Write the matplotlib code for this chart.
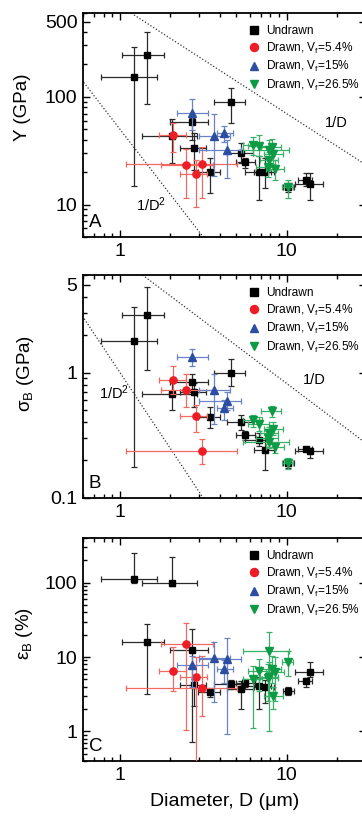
import numpy as np
import matplotlib
matplotlib.use('Agg')
import matplotlib.pyplot as plt
from matplotlib.lines import Line2D
from matplotlib.ticker import FixedLocator, FixedFormatter, LogLocator, NullFormatter

plt.rcParams['font.family'] = ['Liberation Sans', 'DejaVu Sans']
plt.rcParams['mathtext.default'] = 'regular'

# --- undrawn fibres: diameter (um) with low/high ends of the error bars
und_d = [1.21, 1.45, 2.05, 2.70, 2.78, 3.47, 4.62, 5.30, 5.66, 6.80, 7.42, 10.2, 13.0, 13.8]
und_d_lo = [0.77, 1.03, 1.36, 2.01, 2.30, 2.95, 3.65, 4.40, 5.00, 5.60, 6.40, 9.50, 11.8, 11.2]
und_d_hi = [1.66, 1.84, 2.90, 3.39, 3.30, 4.00, 5.60, 6.30, 6.50, 8.10, 8.40, 11.1, 14.2, 16.5]
und_Y = [152, 245, 43.5, 57.8, 33.5, 19.9, 89, 30.1, 24.8, 20.0, 19.9, 14.5, 17.0, 15.6]
und_Y_lo = [15.0, 86, 24.4, 40, 21, 12.8, 57, 24.4, 22, 11.1, 14.3, 13, 14.8, 11.1]
und_Y_hi = [292, 403, 62, 63, 46, 27, 120, 37.3, 27, 28, 27, 16, 19.7, 19.7]
und_S = [1.78, 2.89, 0.68, 0.845, 0.70, 0.44, 1.0, 0.40, 0.316, 0.29, 0.24, 0.19, 0.245, 0.237]
und_S_lo = [0.178, 1.05, 0.50, 0.73, 0.53, 0.36, 0.785, 0.35, 0.29, 0.26, 0.167, 0.175, 0.235, 0.21]
und_S_hi = [3.36, 4.77, 0.86, 0.98, 0.83, 0.53, 1.28, 0.46, 0.34, 0.33, 0.30, 0.205, 0.255, 0.25]
und_E = [113, 15.8, 100, 12.3, 4.2, 3.42, 4.34, 3.68, 4.5, 4.08, 4.0, 3.53, 4.75, 6.3]
und_E_lo = [100, 3.16, 90, 0.73, 2.2, 2.94, 3.7, 2.0, 4.0, 2.0, 2.4, 3.1, 3.9, 5.4]
und_E_hi = [252, 28.3, 220, 23.8, 5.0, 3.8, 4.9, 4.7, 5.0, 5.4, 4.9, 3.9, 5.3, 8.6]

# --- drawn, Vf = 5.4 %
d54 = [2.09, 2.48, 2.86, 3.09]
d54_lo = [1.72, 1.77, 2.29, 1.08]
d54_hi = [2.50, 3.60, 3.35, 5.05]
Y54 = [43.8, 23.1, 19.2, 23.8]
Y54_lo = [31, 11.5, 9.5, 11.5]
Y54_hi = [57, 33, 26, 34]
S54 = [0.87, 0.726, 0.447, 0.237]
S54_lo = [0.68, 0.535, 0.336, 0.188]
S54_hi = [1.13, 0.97, 0.555, 0.297]
E54 = [6.5, 15.1, 5.4, 3.8]
E54_lo = [3.5, 1.06, 0.05, 1.6]
E54_hi = [13.6, 28.4, 10.1, 10.4]

# --- drawn, Vf = 15 %
d15 = [2.69, 3.68, 4.21, 4.38]
d15_lo = [2.19, 2.97, 3.80, 2.98]
d15_hi = [3.40, 4.57, 4.77, 5.30]
Y15 = [70.6, 43.5, 46.1, 31.8]
Y15_lo = [48.7, 18.3, 38, 17.7]
Y15_hi = [95.8, 69, 54, 40]
S15 = [1.33, 0.726, 0.523, 0.59]
S15_lo = [1.13, 0.39, 0.42, 0.50]
S15_hi = [1.53, 0.97, 0.60, 0.70]
E15 = [7.75, 9.8, 7.0, 9.5]
E15_lo = [4.0, 2.5, 4.5, 0.91]
E15_hi = [10.5, 16.2, 9.0, 18]

# --- drawn, Vf = 26.5 %
d265 = [6.25, 6.8, 7.75, 7.8, 7.9, 8.2, 8.25, 8.5, 10.2]
d265_lo = [5.5, 5.9, 6.6, 6.9, 5.5, 7.0, 7.3, 7.5, 9.4]
d265_hi = [7.1, 7.8, 8.9, 8.9, 10.4, 9.3, 9.5, 9.7, 11.0]
Y265 = [35.5, 35.0, 22.5, 26.0, 32.0, 34.5, 29.7, 21.2, 14.5]
Y265_lo = [29, 28, 18, 21, 26, 28, 24, 17, 11.5]
Y265_hi = [42, 44, 27, 31, 40, 41, 36, 26, 17]
S265 = [0.415, 0.39, 0.30, 0.33, 0.28, 0.49, 0.357, 0.256, 0.19]
S265_lo = [0.37, 0.34, 0.27, 0.29, 0.25, 0.44, 0.32, 0.23, 0.17]
S265_hi = [0.46, 0.44, 0.34, 0.37, 0.31, 0.54, 0.40, 0.28, 0.21]
E265 = [5.0, 6.4, 5.25, 5.4, 12.0, 7.0, 2.95, 6.3, 8.6]
E265_lo = [1.1, 3.5, 2.6, 3.0, 1.0, 4.5, 2.0, 2.6, 5.5]
E265_hi = [7.5, 9.5, 8.0, 8.5, 21.5, 10.5, 4.0, 10.0, 12.0]

legend_labels = ['Undrawn', 'Drawn, V$_f$=5.4%', 'Drawn, V$_f$=15%', 'Drawn, V$_f$=26.5%']

# scaling-law guide lines (prefactors for 1/D and 1/D^2)
guide_A = [700, 50]
guide_B = [8.2, 1.0]

# marker, face colour, error bar colour, size
styles = [('s', '#000000', '#2a2a2a', 4.6),
          ('o', '#ee1c24', '#f06a60', 5.2),
          ('^', '#2b4ea2', '#6a82c6', 5.4),
          ('v', '#0c9a44', '#3cb068', 5.4)]


def errs(v, lo, hi):
    v, lo, hi = np.array(v), np.array(lo), np.array(hi)
    return [v - lo, hi - v]


def draw_series(ax, d, dlo, dhi, v, vlo, vhi, style, z):
    m, fc, ec, ms = style
    ax.errorbar(d, v, xerr=errs(d, dlo, dhi), yerr=errs(v, vlo, vhi), fmt=m,
                color=fc, ecolor=ec, ms=ms, mec=fc, elinewidth=0.9,
                capsize=2.3, capthick=0.9, zorder=z)


def setup_axes(ax, ylim, yticks):
    ax.set_xscale('log')
    ax.set_yscale('log')
    ax.set_xlim(0.6, 30)
    ax.set_ylim(*ylim)
    ax.xaxis.set_major_locator(FixedLocator([1, 10]))
    ax.xaxis.set_major_formatter(FixedFormatter(['1', '10']))
    ax.xaxis.set_minor_locator(LogLocator(base=10, subs=np.arange(2, 10)))
    ax.xaxis.set_minor_formatter(NullFormatter())
    ax.yaxis.set_major_locator(FixedLocator(yticks))
    ax.yaxis.set_major_formatter(FixedFormatter([f'{t:g}' for t in yticks]))
    ax.yaxis.set_minor_locator(LogLocator(base=10, subs=np.arange(2, 10)))
    ax.yaxis.set_minor_formatter(NullFormatter())
    ax.tick_params(which='both', direction='in', top=True, right=True, width=1.0,
                   labelsize=14, pad=4)
    ax.tick_params(which='major', length=5)
    ax.tick_params(which='minor', length=3)
    for sp in ax.spines.values():
        sp.set_linewidth(1.3)


def add_legend(ax):
    handles = []
    for m, fc, ec, ms in styles:
        handles.append(Line2D([], [], ls='none', marker=m, color=fc, ms=ms + 0.6))
    ax.legend(handles, legend_labels, loc='upper left', bbox_to_anchor=(0.583, 0.945),
              frameon=False, fontsize=8.6, handlelength=1.0, handletextpad=0.5,
              borderpad=0, borderaxespad=0, labelspacing=0.28)


def add_guides(ax, pref):
    dd = np.logspace(np.log10(0.5), np.log10(40), 50)
    ax.plot(dd, pref[0] / dd, ls=(0, (1, 1.6)), color='#333333', lw=0.9, zorder=1)
    ax.plot(dd, pref[1] / dd ** 2, ls=(0, (1, 1.6)), color='#333333', lw=0.9, zorder=1)


fig = plt.figure(figsize=(3.62, 8.17), dpi=100)
W, H = 362.0, 817.0
left, width = 83 / W, 283 / W
axA = fig.add_axes([left, (H - 237) / H, width, 224 / H])
axB = fig.add_axes([left, (H - 498) / H, width, 223 / H])
axC = fig.add_axes([left, (H - 761) / H, width, 223 / H])

panels = [
    (axA, und_Y, und_Y_lo, und_Y_hi, Y54, Y54_lo, Y54_hi, Y15, Y15_lo, Y15_hi,
     Y265, Y265_lo, Y265_hi),
    (axB, und_S, und_S_lo, und_S_hi, S54, S54_lo, S54_hi, S15, S15_lo, S15_hi,
     S265, S265_lo, S265_hi),
    (axC, und_E, und_E_lo, und_E_hi, E54, E54_lo, E54_hi, E15, E15_lo, E15_hi,
     E265, E265_lo, E265_hi),
]
for p in panels:
    ax = p[0]
    draw_series(ax, und_d, und_d_lo, und_d_hi, p[1], p[2], p[3], styles[0], 3)
    draw_series(ax, d54, d54_lo, d54_hi, p[4], p[5], p[6], styles[1], 4)
    draw_series(ax, d15, d15_lo, d15_hi, p[7], p[8], p[9], styles[2], 5)
    draw_series(ax, d265, d265_lo, d265_hi, p[10], p[11], p[12], styles[3], 6)
    add_legend(ax)

setup_axes(axA, (5, 600), [10, 100, 500])
setup_axes(axB, (0.1, 6), [0.1, 1, 5])
setup_axes(axC, (0.4, 400), [1, 10, 100])

add_guides(axA, guide_A)
add_guides(axB, guide_B)

# slope labels
axA.annotate('1/D', xy=(336 / W, 1 - 123 / H), xycoords='figure fraction',
             fontsize=10.5, ha='center', va='center')
axA.annotate('1/D$^2$', xy=(151 / W, 1 - 205 / H), xycoords='figure fraction',
             fontsize=10.5, ha='center', va='center')
axB.annotate('1/D', xy=(314 / W, 1 - 380 / H), xycoords='figure fraction',
             fontsize=10.5, ha='center', va='center')
axB.annotate('1/D$^2$', xy=(114 / W, 1 - 393 / H), xycoords='figure fraction',
             fontsize=10.5, ha='center', va='center')

for ax, letter in [(axA, 'A'), (axB, 'B'), (axC, 'C')]:
    ax.text(0.02, 0.065, letter, transform=ax.transAxes, fontsize=13.5,
            ha='left', va='center')

axA.set_ylabel('Y (GPa)', fontsize=13.5)
axB.set_ylabel('σ$_B$ (GPa)', fontsize=13.5)
axC.set_ylabel('ε$_B$ (%)', fontsize=13.5)
axA.yaxis.set_label_coords(-0.185, 0.58)
axB.yaxis.set_label_coords(-0.165, 0.56)
axC.yaxis.set_label_coords(-0.17, 0.57)
axC.set_xlabel('Diameter, D (μm)', fontsize=14, labelpad=7)

fig.savefig('out.png', dpi=100)
